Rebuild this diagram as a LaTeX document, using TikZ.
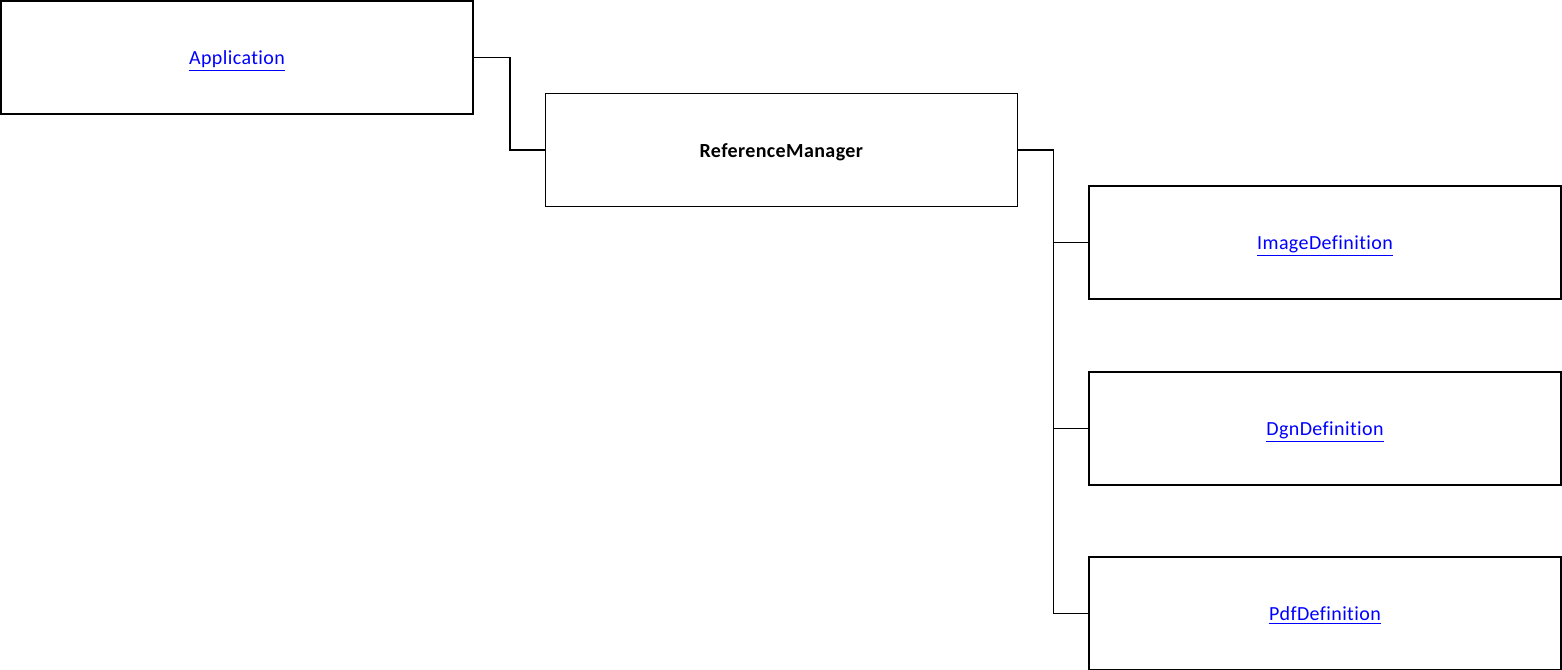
\documentclass[tikz,border=0pt]{standalone}
\usepackage{fontspec}
\setmainfont{Carlito}[Ligatures=NoCommon, LetterSpace=2]
\usepackage{xcolor}
\usetikzlibrary{positioning}
\definecolor{linkblue}{RGB}{0,0,255}
\newcommand{\linktext}[1]{\textcolor{linkblue}{\underline{#1}}}

\begin{document}
\begin{tikzpicture}[x=0.75pt, y=-0.75pt, every node/.style={font=\fontsize{15}{17}\selectfont},
  box/.style={draw, line width=1.1pt, fill=white, inner sep=0pt, outer sep=0pt, minimum width=354pt, minimum height=84.75pt, text height=2.3ex, text depth=0pt, align=center},
  wire/.style={line width=1.1pt}]
  \useasboundingbox (0,0) rectangle (1562,669);
  \node[box] (app) at (237,57.5) {\linktext{Application}};
  \node[box] (refmgr) at (781.5,150) {\textbf{ReferenceManager}};
  \node[box] (img) at (1325,242.5) {\linktext{ImageDefinition}};
  \node[box] (dgn) at (1325,428.5) {\linktext{DgnDefinition}};
  \node[box] (pdf) at (1325,613.5) {\linktext{PdfDefinition}};
  \draw[wire] (app.east) -- ++(37,0) |- (refmgr.west);
  \draw[wire] (refmgr.east) -- ++(36,0) coordinate (bus);
  \draw[wire] (bus) |- (img.west);
  \draw[wire] (bus) |- (dgn.west);
  \draw[wire] (bus) |- (pdf.west);
\end{tikzpicture}
\end{document}
